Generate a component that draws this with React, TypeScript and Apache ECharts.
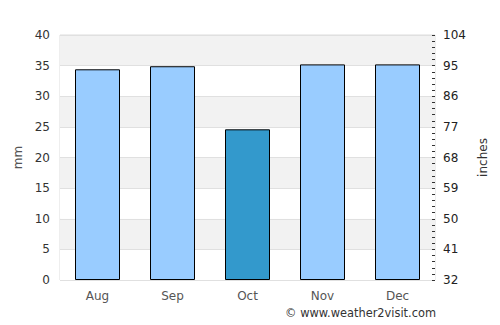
import React, { useEffect, useRef } from "react";
import * as echarts from "echarts";

const months = ["Aug", "Sep", "Oct", "Nov", "Dec"];
const rainfallMm = [34.4, 34.9, 24.6, 35.2, 35.2];
const barColors = ["#99ccff", "#99ccff", "#3399cc", "#99ccff", "#99ccff"];
const rightTickLabels = ["32", "41", "50", "59", "68", "77", "86", "95", "104"];

export default function App() {
  const ref = useRef<HTMLDivElement>(null);
  useEffect(() => {
    const chart = echarts.init(ref.current!, null, { renderer: "svg" });
    chart.setOption({
      animation: false,
      textStyle: { fontFamily: "DejaVu Sans" },
      grid: {
        left: 60,
        right: 65,
        top: 35,
        bottom: 45,
        show: true,
        borderColor: "#dddddd",
        borderWidth: 1,
      },
      xAxis: {
        type: "category",
        data: months,
        axisLine: { show: false },
        axisTick: { show: false },
        axisLabel: { color: "#555", fontSize: 12, margin: 10 },
      },
      yAxis: [
        {
          type: "value",
          min: 0,
          max: 40,
          interval: 5,
          name: "mm",
          nameLocation: "middle",
          nameGap: 34,
          nameTextStyle: { color: "#555", fontSize: 12 },
          axisLine: { show: false },
          axisTick: { show: false },
          axisLabel: { color: "#333", fontSize: 12, margin: 10 },
          splitLine: { show: true, lineStyle: { color: "#e0e0e0" } },
          splitArea: { show: true, areaStyle: { color: ["#ffffff", "#f2f2f2"] } },
        },
        {
          type: "value",
          min: 0,
          max: 40,
          interval: 5,
          position: "right",
          name: "inches",
          nameLocation: "middle",
          nameGap: 40,
          nameTextStyle: { color: "#333", fontSize: 12 },
          axisLine: { show: false },
          axisTick: { show: true, inside: true, length: 3, lineStyle: { color: "#333" } },
          minorTick: { show: true, splitNumber: 5, length: 3, lineStyle: { color: "#333" } },
          axisLabel: {
            color: "#222",
            fontSize: 12,
            margin: 8,
            formatter: (v: number) => rightTickLabels[Math.round(v / 5)] ?? "",
          },
          splitLine: { show: false },
        },
      ],
      series: [
        {
          type: "bar",
          yAxisIndex: 0,
          barWidth: "60%",
          data: rainfallMm.map((v, i) => ({
            value: v,
            itemStyle: { color: barColors[i], borderColor: "#000", borderWidth: 1 },
          })),
        },
      ],
      graphic: [
        {
          type: "text",
          right: 64,
          top: 307,
          style: { text: "© www.weather2visit.com", fill: "#333", fontSize: 11.4, fontFamily: "DejaVu Sans" },
        },
      ],
    });
    return () => chart.dispose();
  }, []);
  return <div ref={ref} style={{ width: 500, height: 325, position: "absolute", left: 0, top: 0 }} />;
}
